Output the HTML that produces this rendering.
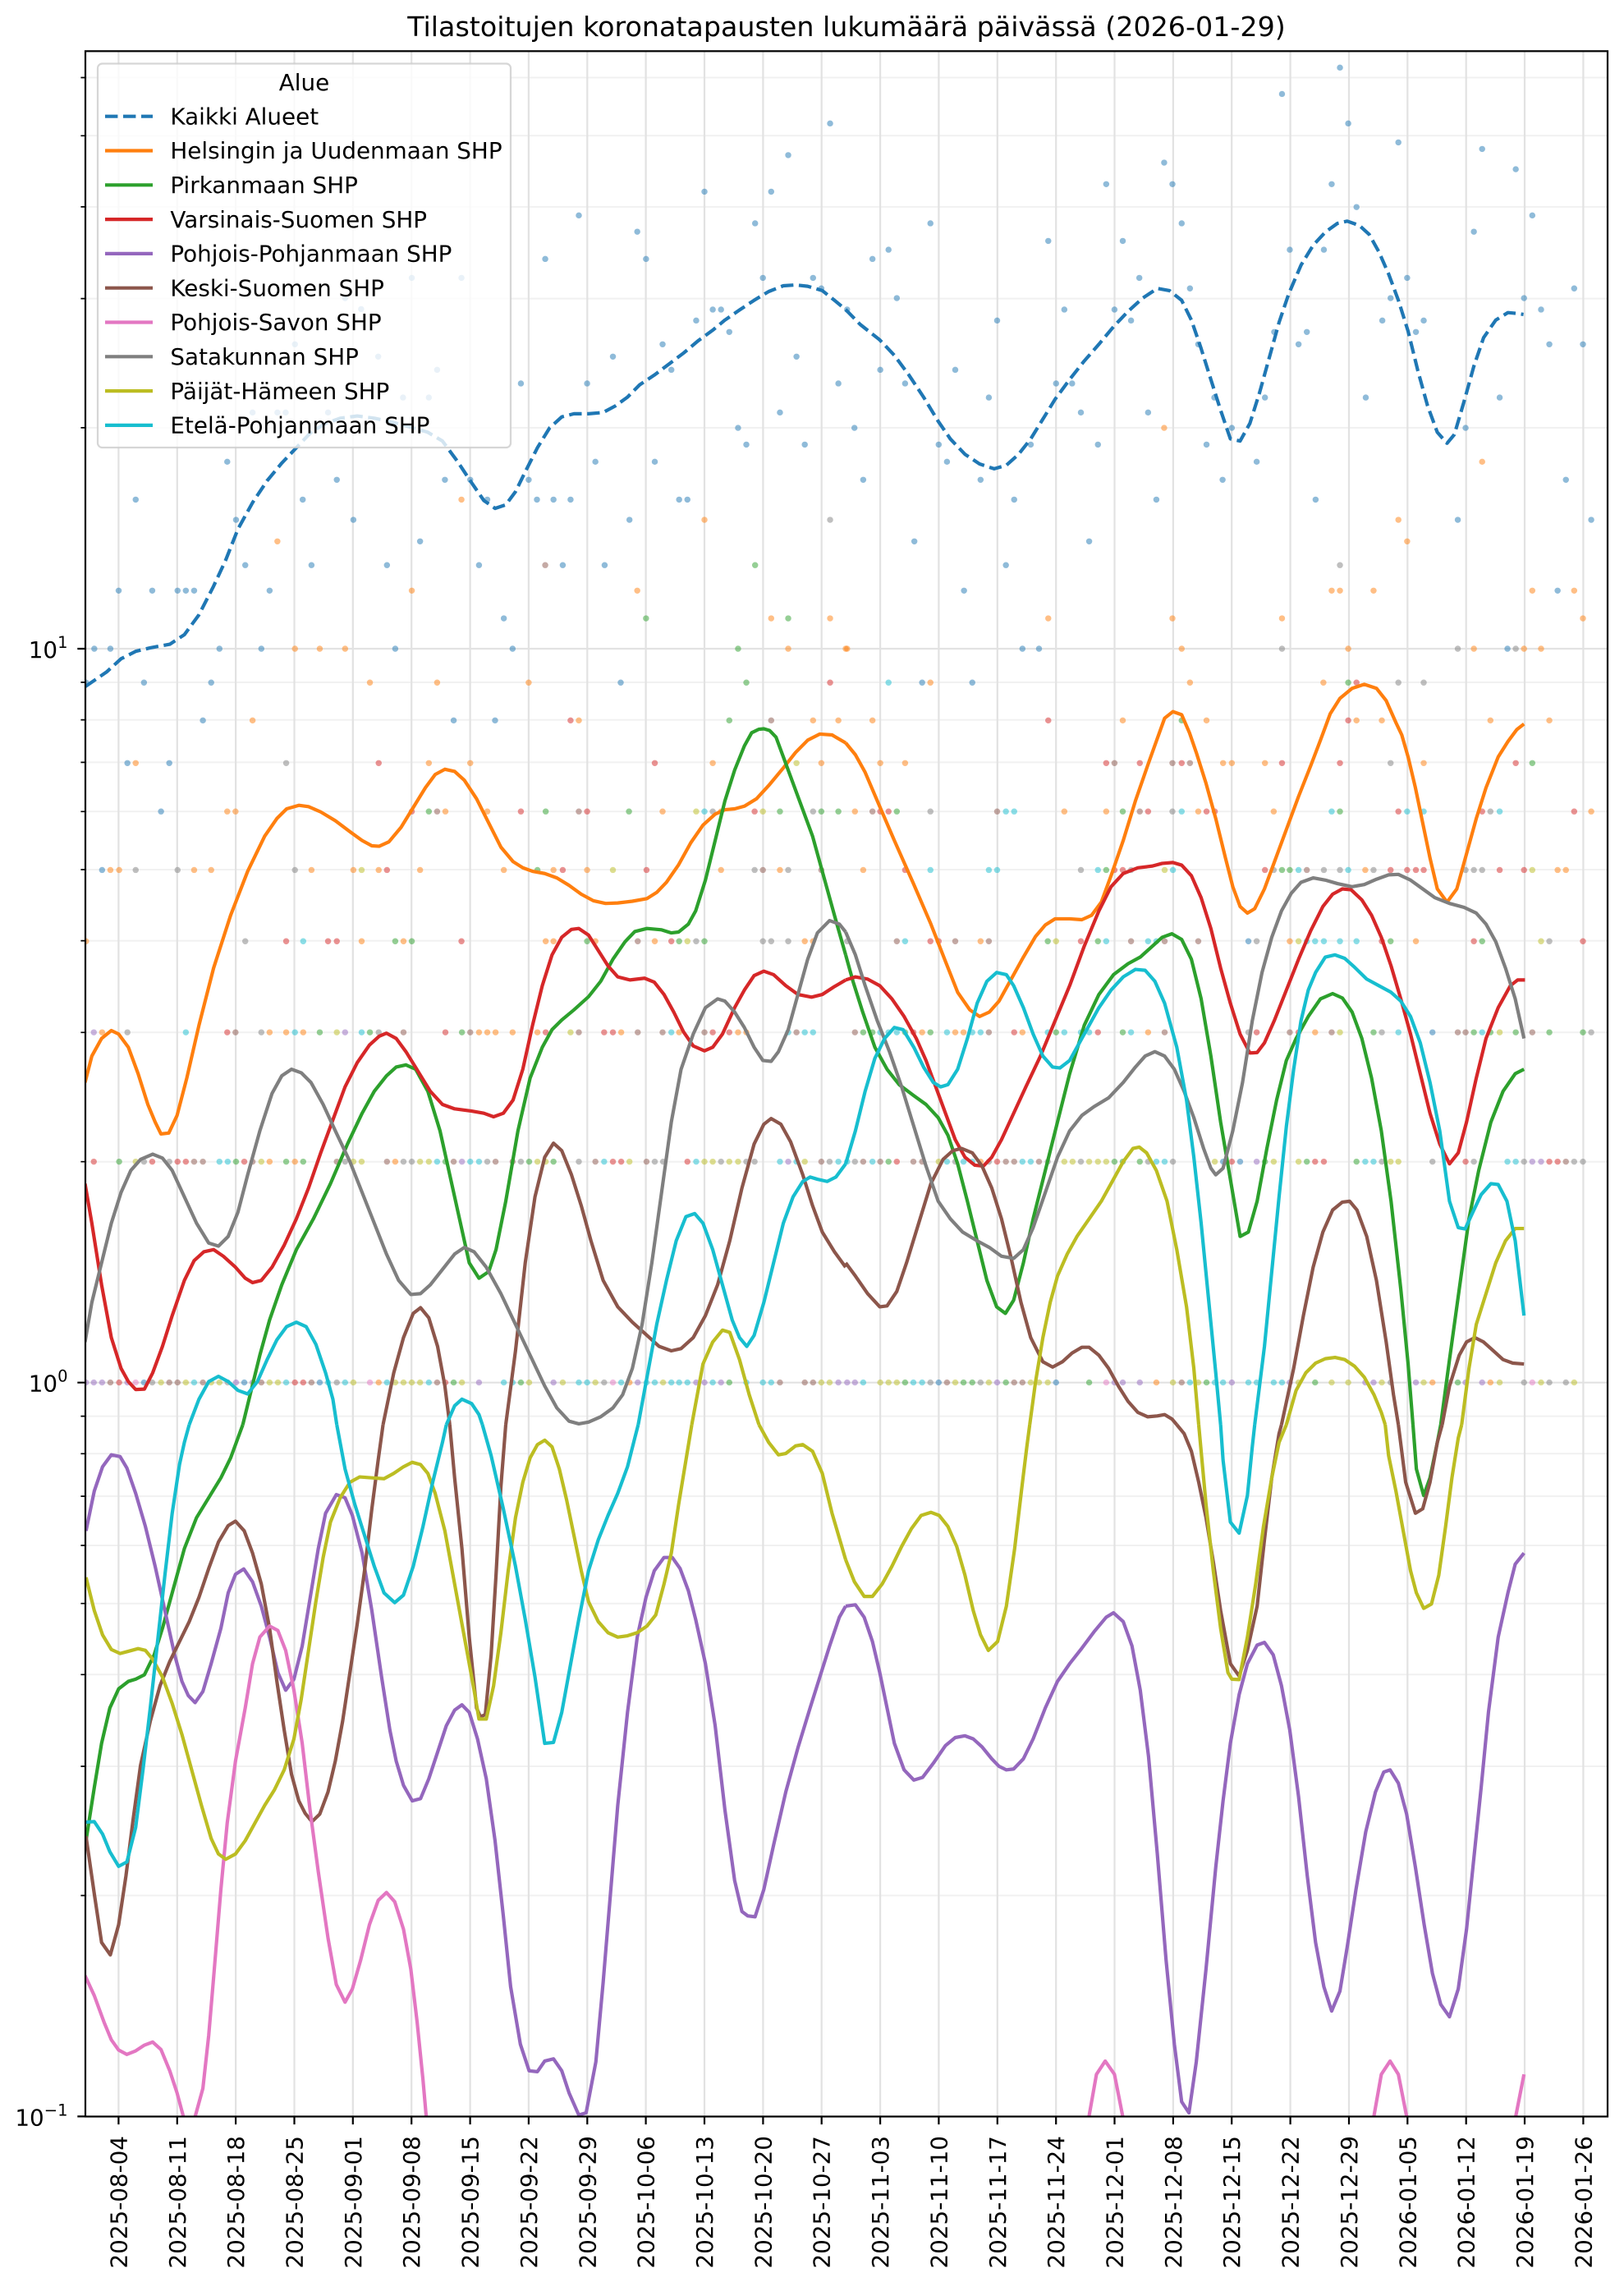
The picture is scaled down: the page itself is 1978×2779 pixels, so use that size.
<!DOCTYPE html>
<html><head><meta charset="utf-8"><style>
html,body{margin:0;padding:0;background:#fff}
svg{display:block}
text{font-family:"DejaVu Sans","Liberation Sans",sans-serif;fill:#000}
.ln{fill:none;stroke-width:4.2;vector-effect:non-scaling-stroke;stroke-linejoin:round}
.dt{fill:none;stroke-width:7.4;stroke-linecap:round;vector-effect:non-scaling-stroke;stroke-opacity:.5}
.gmaj{stroke:#e2e2e2;stroke-width:2.2}
.gmin{stroke:#f1f1f1;stroke-width:2}
</style></head><body>
<svg xmlns="http://www.w3.org/2000/svg" width="1978" height="2779" viewBox="0 0 1978 2779">
<rect width="1978" height="2779" fill="#fff"/>
<defs><clipPath id="ax"><rect x="104" y="62.3" width="1854" height="2515.2"/></clipPath></defs>

<!-- minor horizontal grid -->
<g class="gmin">
<path d="M104 2308.4H1958M104 2151H1958M104 2039.3H1958M104 1952.7H1958M104 1882H1958M104 1822.1H1958M104 1770.3H1958M104 1724.6H1958M104 1414.7H1958M104 1257.3H1958M104 1145.6H1958M104 1059H1958M104 988.3H1958M104 928.4H1958M104 876.6H1958M104 830.9H1958M104 520.9H1958M104 363.6H1958M104 251.9H1958M104 165.3H1958M104 94.5H1958"/>
</g>
<!-- major grid -->
<g class="gmaj">
<path d="M104 790H1958M104 1683.7H1958"/>
<path d="M144.4 62.3V2577.4M215.8 62.3V2577.4M287.1 62.3V2577.4M358.5 62.3V2577.4M429.8 62.3V2577.4M501.2 62.3V2577.4M572.6 62.3V2577.4M643.9 62.3V2577.4M715.3 62.3V2577.4M786.6 62.3V2577.4M858 62.3V2577.4M929.4 62.3V2577.4M1000.7 62.3V2577.4M1072.1 62.3V2577.4M1143.4 62.3V2577.4M1214.8 62.3V2577.4M1286.2 62.3V2577.4M1357.5 62.3V2577.4M1428.9 62.3V2577.4M1500.2 62.3V2577.4M1571.6 62.3V2577.4M1643 62.3V2577.4M1714.3 62.3V2577.4M1785.7 62.3V2577.4M1857 62.3V2577.4M1928.4 62.3V2577.4"/>
</g>

<g clip-path="url(#ax)">
<!-- ===== DOTS ===== -->
<g transform="translate(100,55) scale(0.59311,0.53571)">
<path class="dt" stroke="#1f77b4" d="M1536 178h.1M1450 250h.1M1278 333h.1M1415 333h.1M1020 387h.1M1382 405h.1M1140 424h.1M951 486h.1M1158 486h.1M1398 529h.1M1501 529h.1M1518 553h.1M677 529h.1M779 529h.1M540 575h.1M573 600h.1M1295 601h.1M1312 601h.1M1261 626h.1M1329 652h.1M437 680h.1M1192 680h.1M608 708h.1M1090 708h.1M1467 708h.1M729 738h.1M1210 738h.1M901 769h.1M1037 769h.1M1553 769h.1M659 801h.1M712 801h.1M350 835h.1M401 835h.1M418 835h.1M505 835h.1M1433 835h.1M1347 870h.1M1364 908h.1M1484 908h.1M298 947h.1M1054 947h.1M1176 947h.1M523 988h.1M745 988h.1M797 988h.1M917 988h.1M110 1033h.1M453 1033h.1M832 1033h.1M934 1033h.1M968 1033h.1M1003 1033h.1M1226 1033h.1M1243 1033h.1M316 1079h.1M557 1079h.1M1124 1079h.1M694 1128h.1M335 1182h.1M471 1182h.1M626 1182h.1M815 1182h.1M987 1182h.1M1073 1182h.1M75 1240h.1M144 1240h.1M196 1240h.1M213 1240h.1M230 1240h.1M385 1240h.1M866 1303h.1M25 1372h.1M58 1372h.1M282 1372h.1M368 1372h.1M643 1372h.1M884 1372h.1M8 1449h.1M127 1449h.1M265 1449h.1M1106 1449h.1M248 1535h.1M763 1535h.1M848 1535h.1"/>
<path class="dt" stroke="#ff7f0e" d="M779 1033h.1M401 1128h.1M677 1240h.1M1278 1079h.1M1140 1240h.1M1415 1303h.1M1536 1303h.1M437 1372h.1M488 1372h.1M540 1372h.1M1450 1372h.1M1568 1372h.1M591 1449h.1M729 1449h.1M917 1449h.1M350 1535h.1M1020 1535h.1M1501 1535h.1M1553 1535h.1"/>
<path class="dt" stroke="#7f7f7f" d="M1536 1079h.1"/>
<path class="dt" stroke="#8c564b" d="M951 1182h.1M1415 1535h.1"/>
<path class="dt" stroke="#2ca02c" d="M1382 1182h.1M1158 1303h.1M1450 1303h.1M1347 1372h.1M1364 1449h.1M1329 1535h.1"/>
<path class="dt" stroke="#d62728" d="M1003 1535h.1M1536 1449h.1"/>
</g>
<g transform="translate(1030,55) scale(0.59311,0.53571)">
<path class="dt" stroke="#1f77b4" d="M1015 51h.1M896 111h.1M1032 178h.1M1135 221h.1M1307 236h.1M654 267h.1M1376 282h.1M535 316h.1M671 316h.1M998 316h.1M1049 368h.1M174 405h.1M690 405h.1M1410 387h.1M416 445h.1M569 445h.1M1290 424h.1M88 465h.1M912 465h.1M982 465h.1M55 486h.1M603 529h.1M1153 529h.1M707 553h.1M1496 553h.1M105 575h.1M1119 575h.1M1393 575h.1M3 601h.1M449 601h.1M552 601h.1M1428 601h.1M311 626h.1M586 626h.1M1102 626h.1M1187 626h.1M880 652h.1M947 652h.1M1171 652h.1M724 680h.1M930 680h.1M1445 680h.1M1514 680h.1M71 738h.1M225 738h.1M122 769h.1M432 769h.1M465 769h.1M294 801h.1M757 801h.1M861 801h.1M1068 801h.1M1343 801h.1M483 835h.1M621 835h.1M18 870h.1M793 870h.1M1273 870h.1M191 908h.1M380 908h.1M518 908h.1M741 908h.1M208 947h.1M844 947h.1M36 988h.1M277 988h.1M774 988h.1M1479 988h.1M346 1033h.1M638 1033h.1M965 1033h.1M1257 1079h.1M1531 1079h.1M141 1128h.1M500 1128h.1M329 1182h.1M243 1240h.1M1462 1240h.1M363 1372h.1M397 1372h.1M1359 1372h.1M157 1449h.1M260 1449h.1"/>
<path class="dt" stroke="#ff7f0e" d="M654 870h.1M1307 947h.1M1135 1079h.1M1153 1128h.1M998 1240h.1M1015 1240h.1M1084 1240h.1M1410 1240h.1M1496 1240h.1M416 1303h.1M671 1303h.1M896 1303h.1M1514 1303h.1M3 1372h.1M690 1372h.1M1032 1372h.1M1290 1372h.1M1393 1372h.1M1428 1372h.1M174 1449h.1M707 1449h.1M981 1449h.1M55 1535h.1M569 1535h.1M741 1535h.1M1049 1535h.1M1101 1535h.1M1324 1535h.1M1445 1535h.1"/>
<path class="dt" stroke="#7f7f7f" d="M1015 1182h.1M896 1372h.1M1257 1372h.1M1376 1372h.1M1135 1449h.1M1187 1449h.1"/>
<path class="dt" stroke="#17becf" d="M88 1449h.1"/>
<path class="dt" stroke="#2ca02c" d="M1032 1449h.1M690 1535h.1"/>
<path class="dt" stroke="#d62728" d="M1049 1449h.1M416 1535h.1M1032 1535h.1"/>
</g>
<g transform="translate(100,895) scale(0.59311,0.53571)">
<path class="dt" stroke="#1f77b4" d="M93 64h.1M179 64h.1M162 174h.1M41 307h.1M127 1472h.1M333 1472h.1M488 1472h.1"/>
<path class="dt" stroke="#ff7f0e" d="M110 64h.1M712 64h.1M797 64h.1M1295 64h.1M1518 64h.1M298 174h.1M315 174h.1M746 174h.1M832 174h.1M1192 174h.1M1312 174h.1M58 307h.1M76 307h.1M230 307h.1M265 307h.1M471 307h.1M557 307h.1M609 307h.1M694 307h.1M866 307h.1M968 307h.1M1037 307h.1M1312 307h.1M1433 307h.1M8 469h.1M574 469h.1M660 469h.1M952 469h.1M968 469h.1M1054 469h.1M1176 469h.1M1484 469h.1M1501 469h.1M41 676h.1M385 676h.1M419 676h.1M454 676h.1M815 676h.1M832 676h.1M849 676h.1M884 676h.1M935 676h.1M1107 676h.1M1226 676h.1M1347 676h.1M1364 676h.1M385 970h.1M437 970h.1M643 970h.1M609 1472h.1M1124 1472h.1"/>
<path class="dt" stroke="#7f7f7f" d="M419 64h.1M1295 174h.1M1501 174h.1M110 307h.1M196 307h.1M437 307h.1M1381 307h.1M1450 307h.1M335 469h.1M1261 469h.1M1398 469h.1M1415 469h.1M1450 469h.1M93 676h.1M368 676h.1M609 676h.1M127 970h.1M179 970h.1M540 970h.1M660 970h.1M677 970h.1M832 970h.1M901 970h.1M1020 970h.1M1176 970h.1M1193 970h.1M1312 970h.1M1364 970h.1M1381 970h.1M1535 970h.1M144 1472h.1M299 1472h.1M523 1472h.1M1072 1472h.1"/>
<path class="dt" stroke="#d62728" d="M609 64h.1M1176 64h.1M677 174h.1M1037 174h.1M1381 174h.1M901 174h.1M626 307h.1M987 307h.1M1159 307h.1M419 469h.1M505 469h.1M523 469h.1M779 469h.1M1210 469h.1M298 676h.1M746 676h.1M952 676h.1M1072 676h.1M1090 676h.1M1295 676h.1M1329 676h.1M24 970h.1M144 970h.1M196 970h.1M213 970h.1M333 970h.1M1090 970h.1M1107 970h.1M1243 970h.1M76 1472h.1M437 1472h.1M454 1472h.1M746 1472h.1"/>
<path class="dt" stroke="#2ca02c" d="M712 174h.1M952 174h.1M1123 174h.1M1433 174h.1M1518 174h.1M1553 174h.1M935 307h.1M643 469h.1M677 469h.1M1037 469h.1M1226 469h.1M1278 469h.1M488 676h.1M591 676h.1M780 676h.1M76 970h.1M316 970h.1M419 970h.1M454 970h.1M746 970h.1M918 970h.1M968 970h.1M763 1472h.1M901 1472h.1M1329 1472h.1"/>
<path class="dt" stroke="#8c564b" d="M729 174h.1M1020 174h.1M1398 307h.1M1518 307h.1M1141 469h.1M315 676h.1M660 676h.1M797 676h.1M1020 676h.1M1141 676h.1M1192 676h.1M1278 676h.1M1467 676h.1M230 970h.1M248 970h.1M350 970h.1M523 970h.1M626 970h.1M763 970h.1M849 970h.1M884 970h.1M1054 970h.1M1159 970h.1M1518 970h.1M58 1472h.1M179 1472h.1M196 1472h.1M248 1472h.1M368 1472h.1M471 1472h.1M729 1472h.1M1433 1472h.1M1484 1472h.1M1501 1472h.1"/>
<path class="dt" stroke="#bcbd22" d="M1467 64h.1M1261 174h.1M1398 174h.1M574 307h.1M1090 307h.1M1243 469h.1M523 676h.1M1003 676h.1M110 970h.1M368 970h.1M557 970h.1M574 970h.1M694 970h.1M712 970h.1M935 970h.1M952 970h.1M1124 970h.1M1278 970h.1M1295 970h.1M1329 970h.1M1347 970h.1M1484 970h.1M162 1472h.1M213 1472h.1M265 1472h.1M282 1472h.1M385 1472h.1M402 1472h.1M557 1472h.1M643 1472h.1M660 1472h.1M677 1472h.1M694 1472h.1M780 1472h.1M918 1472h.1M987 1472h.1M1054 1472h.1M1193 1472h.1M1518 1472h.1M1535 1472h.1"/>
<path class="dt" stroke="#17becf" d="M1278 174h.1M454 469h.1M213 676h.1M437 676h.1M574 676h.1M1210 676h.1M1450 676h.1M1484 676h.1M1501 676h.1M282 970h.1M299 970h.1M729 970h.1M797 970h.1M815 970h.1M1261 970h.1M1467 970h.1M1553 970h.1M1072 970h.1M1433 970h.1M230 1472h.1M419 1472h.1M505 1472h.1M540 1472h.1M626 1472h.1M712 1472h.1M866 1472h.1M884 1472h.1M1020 1472h.1M1037 1472h.1M1107 1472h.1M1159 1472h.1M1176 1472h.1M1210 1472h.1M1226 1472h.1M1243 1472h.1M1295 1472h.1M1364 1472h.1M1398 1472h.1M1415 1472h.1"/>
<path class="dt" stroke="#9467bd" d="M24 676h.1M540 676h.1M780 970h.1M1450 970h.1M8 1472h.1M24 1472h.1M41 1472h.1M93 1472h.1M316 1472h.1M350 1472h.1M815 1472h.1M968 1472h.1M1141 1472h.1M1261 1472h.1M1278 1472h.1M1312 1472h.1M1553 1472h.1"/>
<path class="dt" stroke="#e377c2" d="M110 1472h.1M591 1472h.1M1090 1472h.1"/>
</g>
<g transform="translate(1030,895) scale(0.59311,0.53571)">
<path class="dt" stroke="#1f77b4" d="M827 469h.1M1205 676h.1M775 970h.1M810 970h.1M191 1472h.1M432 1472h.1"/>
<path class="dt" stroke="#ff7f0e" d="M71 64h.1M122 64h.1M775 64h.1M793 64h.1M861 64h.1M1187 64h.1M19 174h.1M449 174h.1M535 174h.1M724 174h.1M879 174h.1M1531 174h.1M36 307h.1M1067 307h.1M1462 307h.1M1479 307h.1M277 469h.1M912 469h.1M1171 469h.1M157 676h.1M225 676h.1M242 676h.1M363 676h.1M621 676h.1M964 676h.1M277 970h.1M638 1472h.1M1205 1472h.1M1324 1472h.1"/>
<path class="dt" stroke="#d62728" d="M535 64h.1M604 64h.1M690 64h.1M896 64h.1M1015 64h.1M1376 64h.1M71 174h.1M88 174h.1M621 174h.1M741 174h.1M758 174h.1M1135 174h.1M1307 174h.1M1496 174h.1M122 307h.1M552 307h.1M569 307h.1M861 307h.1M1119 307h.1M1153 307h.1M1171 307h.1M1187 307h.1M1343 307h.1M1393 307h.1M174 469h.1M191 469h.1M483 469h.1M1101 469h.1M1290 469h.1M1514 469h.1M139 676h.1M346 676h.1M518 676h.1M844 676h.1M930 676h.1M105 970h.1M311 970h.1M793 970h.1M964 970h.1M982 970h.1M1273 970h.1M1445 970h.1M1462 970h.1"/>
<path class="dt" stroke="#8c564b" d="M552 64h.1M671 64h.1M707 64h.1M55 174h.1M311 174h.1M604 174h.1M947 307h.1M105 469h.1M225 469h.1M294 469h.1M586 469h.1M655 469h.1M724 469h.1M19 676h.1M294 676h.1M655 676h.1M912 676h.1M998 676h.1M1257 676h.1M1273 676h.1M1410 676h.1M36 970h.1M71 970h.1M139 970h.1M157 970h.1M329 970h.1M346 970h.1M397 970h.1M1479 970h.1M208 1472h.1M346 1472h.1M363 1472h.1M690 1472h.1"/>
<path class="dt" stroke="#7f7f7f" d="M1119 64h.1M174 174h.1M671 174h.1M1324 174h.1M483 307h.1M586 307h.1M879 307h.1M982 307h.1M1015 307h.1M1084 307h.1M1273 307h.1M1290 307h.1M1307 307h.1M3 469h.1M844 469h.1M1445 469h.1M827 676h.1M1101 676h.1M1531 676h.1M19 970h.1M225 970h.1M294 970h.1M415 970h.1M483 970h.1M621 970h.1M672 970h.1M1101 970h.1M1205 970h.1M1290 970h.1M1393 970h.1M1496 970h.1M1514 970h.1M174 1472h.1M277 1472h.1M1119 1472h.1M1240 1472h.1M1393 1472h.1M1445 1472h.1M1479 1472h.1"/>
<path class="dt" stroke="#2ca02c" d="M1410 64h.1M105 174h.1M569 174h.1M1015 174h.1M535 307h.1M896 307h.1M912 307h.1M415 469h.1M518 469h.1M1119 469h.1M1307 469h.1M36 676h.1M55 676h.1M122 676h.1M174 676h.1M432 676h.1M569 676h.1M1084 676h.1M1290 676h.1M1324 676h.1M1376 676h.1M1445 676h.1M1514 676h.1M88 970h.1M552 970h.1M569 970h.1M604 970h.1M861 970h.1M947 970h.1M1049 970h.1M122 1472h.1M242 1472h.1M260 1472h.1M329 1472h.1M500 1472h.1M741 1472h.1M964 1472h.1M1257 1472h.1"/>
<path class="dt" stroke="#bcbd22" d="M655 307h.1M1410 307h.1M432 469h.1M930 469h.1M1428 469h.1M1015 676h.1M1343 676h.1M191 970h.1M449 970h.1M466 970h.1M500 970h.1M518 970h.1M535 970h.1M758 970h.1M879 970h.1M930 970h.1M1119 970h.1M1135 970h.1M71 1472h.1M88 1472h.1M105 1472h.1M225 1472h.1M294 1472h.1M380 1472h.1M397 1472h.1M415 1472h.1M672 1472h.1M724 1472h.1M930 1472h.1M998 1472h.1M1032 1472h.1M1101 1472h.1M1187 1472h.1M1343 1472h.1M1428 1472h.1M1496 1472h.1"/>
<path class="dt" stroke="#17becf" d="M329 174h.1M346 174h.1M690 174h.1M998 174h.1M1153 174h.1M1187 174h.1M1343 174h.1M174 307h.1M294 307h.1M311 307h.1M518 307h.1M672 307h.1M930 307h.1M1032 307h.1M122 469h.1M535 469h.1M621 469h.1M638 469h.1M947 469h.1M964 469h.1M982 469h.1M1015 469h.1M1049 469h.1M71 676h.1M88 676h.1M105 676h.1M208 676h.1M260 676h.1M277 676h.1M415 676h.1M449 676h.1M483 676h.1M500 676h.1M586 676h.1M1135 676h.1M1307 676h.1M3 970h.1M55 970h.1M208 970h.1M242 970h.1M260 970h.1M363 970h.1M380 970h.1M638 970h.1M655 970h.1M1067 970h.1M1084 970h.1M1359 970h.1M1376 970h.1M36 1472h.1M139 1472h.1M157 1472h.1M707 1472h.1M758 1472h.1M775 1472h.1M827 1472h.1M844 1472h.1M879 1472h.1M896 1472h.1"/>
<path class="dt" stroke="#9467bd" d="M844 970h.1M1410 970h.1M1428 970h.1M3 1472h.1M19 1472h.1M311 1472h.1M552 1472h.1M569 1472h.1M604 1472h.1M793 1472h.1M912 1472h.1M1067 1472h.1M1084 1472h.1M1171 1472h.1M1273 1472h.1M1307 1472h.1"/>
<path class="dt" stroke="#e377c2" d="M535 1472h.1M1410 1472h.1"/>
</g>

<!-- ===== LINES ===== -->
<path fill="none" stroke="#1f77b4" stroke-width="4.2" stroke-dasharray="15.4 6.6" stroke-linejoin="round" d="M104,836 L129.7,818.4 147.4,802.3 165.2,793.2 183,788.9 206.8,784.6 224.6,772.9 242.3,748.7 260.1,713.9 275,681.8 289.8,644.3 307.6,612.1 325.4,585.4 343.2,563.9 361,545.2 378.8,526.4 396.6,515.7 414.3,509.3 435.1,506.6 455.9,509.3 479.6,514.6 503.3,521.1 521.1,526.4 538.9,537.1 556.7,561.2 574.5,588 589.3,609.5 603,619.1 616,614.8 627.9,598.7 639.7,574.6 654.6,545.2 669.4,521.1 684.2,507.7 699,503.9 716.8,503.9 734.6,502.3 749.5,494.3 764.3,483.6 779.1,468.6 796.9,456.8 814.7,443.4 832.5,430 850.3,415 868.1,402.1 882.9,389.8 900.7,377.5 918.5,365.7 936.3,355 954.1,348 968.9,347 983.7,348.6 1001.5,353.9 1016.4,365.7 1030,377 1047.8,395.2 1071.5,413.9 1089.3,432.7 1107.1,456.8 1124.9,483.6 1142.7,513 1157.5,534.5 1175.3,553.2 1193.1,565 1210.9,570.9 1225.7,566.6 1240.6,553.2 1255.4,534.5 1270.2,510.4 1285,486.3 1302.8,462.1 1320.6,439.6 1338.4,419.3 1356.2,397.9 1374,379.1 1391.8,363 1409.6,351.2 1424.4,353.9 1439.2,365.7 1451.1,389.8 1463,424.6 1474.8,462.1 1486.7,499.6 1498.6,534.5 1510.4,537.1 1522.3,515.7 1534.1,478.2 1546,435.4 1557.9,392.5 1569.7,357.7 1584.6,322.9 1599.4,298.7 1614.2,282.7 1629,272 1640.9,269.3 1655.7,274.6 1667.6,285.4 1679.5,306.8 1691.3,333.6 1703.2,365.7 1715,403.2 1726.9,451.4 1738.8,494.3 1750.6,526.4 1762.5,539.8 1771.4,529.1 1783.2,488.9 1795.1,446.1 1807,411.2 1821.8,389.8 1836.6,380.7 1848.5,381.8 1855.6,382.9"/>

<g transform="translate(100,895) scale(0.59311,0.53571)">
<path class="ln" stroke="#ff7f0e" d="M6,790 L20,730 40,690 60,672 75,680 95,710 115,770 135,840 150,880 162,907 178,905 195,865 215,780 240,660 270,530 305,410 340,310 375,230 400,190 420,168 445,160 465,163 490,175 520,195 550,220 575,240 595,252 610,253 630,243 655,210 680,165 705,120 725,90 745,78 765,83 785,103 810,145 835,200 860,255 885,288 905,302 925,310 950,315 975,325 1000,342 1025,362 1050,377 1075,383 1100,382 1130,378 1160,372 1180,358 1200,335 1225,295 1250,245 1275,205 1300,180 1320,170 1340,168 1360,162 1385,145 1410,115 1440,75 1465,40 1490,12 1515,-2 1540,0 1568,18"/>
<path class="ln" stroke="#2ca02c" d="M330,1568 L345,1500 365,1410 385,1330 410,1250 440,1170 475,1100 510,1020 545,930 575,860 600,810 625,775 645,755 665,750 685,760 710,810 735,900 755,1000 775,1100 795,1200 815,1235 835,1220 850,1170 870,1060 895,900 920,780 945,710 965,670 985,648 1010,625 1040,595 1065,560 1090,510 1115,470 1135,447 1160,440 1190,443 1210,450 1225,448 1245,430 1260,400 1280,330 1300,240 1320,150 1340,80 1360,25 1375,-5 1390,-13 1400,-14 1412,-10 1425,5 1440,50 1470,140 1500,230 1525,330 1550,430 1568,500"/>
<path class="ln" stroke="#d62728" d="M6,1020 L20,1110 40,1250 60,1370 80,1440 95,1470 110,1488 128,1487 145,1450 165,1390 185,1320 210,1240 230,1195 250,1175 270,1170 290,1185 315,1210 335,1235 350,1245 368,1240 390,1210 415,1160 440,1100 465,1030 490,950 515,875 540,800 565,745 590,705 610,685 625,678 645,690 665,720 690,765 715,810 740,840 765,850 800,855 825,860 845,868 865,860 885,830 905,760 925,660 945,570 965,500 985,460 1005,442 1020,440 1040,455 1060,490 1080,525 1100,550 1125,557 1155,553 1175,562 1195,590 1215,630 1235,675 1255,707 1278,718 1295,710 1315,680 1340,620 1360,580 1380,547 1400,537 1420,545 1445,570 1470,590 1498,596 1520,590 1545,572 1568,557"/>
<path class="ln" stroke="#8c564b" d="M618,1568 L640,1450 660,1370 680,1315 695,1302 712,1325 730,1390 745,1480 755,1568 M870,1568 L890,1400 910,1200 930,1050 950,960 968,928 985,945 1005,1000 1025,1070 1045,1150 1070,1240 1100,1300 1130,1335 1160,1365 1185,1390 1210,1400 1230,1395 1255,1370 1280,1320 1305,1250 1330,1150 1355,1030 1380,930 1400,885 1415,872 1435,885 1455,925 1480,1000 1500,1070 1520,1130 1545,1175 1568,1210"/>
<path class="ln" stroke="#7f7f7f" d="M6,1380 L20,1290 40,1200 60,1110 80,1040 100,990 120,965 145,953 165,962 185,990 210,1050 235,1110 260,1155 280,1162 300,1140 320,1085 340,1000 365,900 390,815 410,775 430,760 450,768 470,790 495,840 520,900 550,970 575,1040 600,1110 625,1180 650,1240 675,1272 695,1270 715,1250 740,1215 765,1180 785,1165 805,1175 830,1210 860,1270 890,1340 920,1410 950,1480 975,1530 1000,1560 1020,1566 1040,1562 1065,1550 1090,1530 1110,1500 1130,1440 1150,1340 1170,1200 1190,1040 1210,880 1230,760 1255,680 1280,620 1305,600 1320,605 1340,630 1360,665 1380,710 1398,740 1415,742 1430,720 1450,670 1470,590 1490,510 1510,450 1535,422 1555,430 1568,448"/>
<path class="ln" stroke="#bcbd22" d="M1252,1568 L1275,1430 1295,1380 1315,1353 1330,1358 1350,1420 1370,1500 1390,1568"/>
<path class="ln" stroke="#17becf" d="M220,1568 L240,1510 260,1470 280,1458 300,1470 320,1490 340,1498 360,1470 380,1420 400,1375 420,1345 440,1335 460,1345 480,1385 500,1450 515,1510 523,1568 M748,1568 L765,1525 780,1510 800,1520 815,1545 822,1568 M1142,1568 L1160,1460 1180,1340 1200,1240 1220,1150 1240,1095 1258,1088 1275,1110 1295,1170 1315,1250 1335,1330 1350,1370 1365,1390 1380,1365 1400,1290 1420,1200 1440,1110 1460,1050 1480,1015 1495,1005 1510,1010 1530,1015 1548,1005 1568,975"/>
</g>

<g transform="translate(100,1735) scale(0.59311,0.5389)">
<path class="ln" stroke="#2ca02c" d="M8,940 L25,820 40,720 57,640 75,597 95,580 110,575 128,565 148,520 165,460 185,380 210,280 235,210 260,165 285,120 305,75 320,30 330,0"/>
<path class="ln" stroke="#9467bd" d="M8,240 L25,150 42,95 60,68 78,72 92,98 110,155 130,230 150,320 170,420 190,520 205,580 218,612 232,628 248,603 265,540 285,460 300,380 315,338 332,326 350,355 368,410 385,480 402,560 418,600 435,575 452,500 470,380 485,280 500,200 522,158 540,165 555,205 575,290 595,420 615,570 632,690 645,760 660,815 678,850 695,845 712,800 730,740 748,680 765,645 780,633 795,650 812,710 830,800 848,940 865,1110 880,1270 900,1400 918,1460 935,1462 950,1438 968,1433 985,1460 1000,1510 1020,1560 1035,1555 1055,1440 1070,1260 1085,1060 1100,860 1120,650 1140,480 1158,390 1175,330 1195,300 1212,300 1228,325 1245,375 1260,440 1280,540 1300,680 1320,870 1340,1030 1355,1100 1367,1110 1382,1112 1400,1050 1420,950 1445,830 1470,730 1495,640 1515,570 1535,500 1555,435 1568,410"/>
<path class="ln" stroke="#8c564b" d="M8,930 L25,1060 40,1170 58,1198 75,1130 90,1020 105,890 120,770 140,670 160,590 180,535 200,490 220,445 240,390 260,325 280,265 300,228 315,218 333,240 350,290 368,360 385,460 400,580 415,690 430,790 445,850 458,878 472,897 488,880 505,830 520,760 535,670 550,560 565,450 580,330 595,190 608,80 618,0 M755,0 L765,120 780,280 795,480 810,640 818,660 828,655 840,520 850,340 860,140 870,0"/>
<path class="ln" stroke="#e377c2" d="M6,1245 L25,1290 45,1350 60,1390 75,1413 92,1423 110,1415 128,1402 145,1395 162,1412 180,1460 195,1510 212,1580 M228,1580 L248,1500 260,1380 270,1250 285,1050 298,900 315,760 335,640 350,540 365,480 385,455 402,465 418,510 435,600 452,720 468,870 485,1010 505,1160 522,1265 540,1305 555,1275 572,1210 590,1130 608,1075 625,1057 642,1078 660,1140 675,1230 688,1350 700,1480 708,1580"/>
<path class="ln" stroke="#bcbd22" d="M8,345 L25,420 42,475 60,508 78,517 95,512 115,506 130,510 145,530 165,570 185,630 205,700 225,780 245,860 265,935 280,970 295,982 315,970 335,940 355,900 375,860 395,825 415,780 435,710 450,620 465,510 480,400 495,300 510,220 530,165 550,130 570,118 595,120 620,122 640,110 660,95 678,85 695,90 710,110 725,155 745,240 765,360 785,480 805,600 815,665 830,665 845,590 860,470 875,330 890,210 905,130 920,75 935,45 950,35 965,50 980,100 995,170 1010,250 1025,330 1040,400 1060,445 1080,470 1100,480 1120,477 1140,470 1160,455 1178,430 1195,360 1210,290 1225,180 1240,80 1252,0 M1390,0 L1410,40 1430,68 1445,65 1465,48 1480,45 1500,60 1520,110 1540,200 1560,275 1568,305"/>
<path class="ln" stroke="#17becf" d="M8,898 L25,897 42,925 57,965 75,998 92,988 110,910 125,780 140,640 155,490 170,340 185,200 200,90 210,40 220,0 M523,0 L540,100 560,180 580,250 600,320 620,380 642,402 660,385 680,320 700,230 720,130 740,40 748,0 M822,0 L840,70 865,190 890,320 910,440 930,570 950,720 968,718 985,650 1000,560 1020,440 1040,330 1060,260 1080,205 1100,155 1120,95 1135,30 1142,0"/>
</g>

<g transform="translate(1030,895) scale(0.59311,0.53571)">
<path class="ln" stroke="#ff7f0e" d="M0,18 L20,45 40,85 65,150 100,240 140,340 175,430 205,515 230,585 255,625 275,640 295,630 315,605 340,555 365,505 390,458 410,432 430,418 460,418 485,420 505,410 525,380 545,320 570,240 595,150 620,70 640,8 655,-38 672,-53 690,-46 706,-5 720,40 740,110 760,190 780,280 795,345 810,390 825,405 840,395 860,350 880,290 905,215 930,140 955,70 975,12 995,-48 1015,-83 1040,-106 1065,-115 1090,-106 1110,-78 1130,-28 1142,0 1155,50 1170,120 1185,200 1200,280 1215,350 1235,380 1255,350 1275,270 1295,190 1315,120 1340,50 1360,15 1378,-12 1393,-25"/>
<path class="ln" stroke="#2ca02c" d="M0,500 L15,560 35,630 60,710 85,760 110,795 140,820 165,840 190,870 210,910 230,975 250,1060 270,1150 290,1240 310,1300 328,1315 345,1285 365,1200 385,1100 410,990 435,880 460,770 490,660 520,590 550,545 580,520 605,505 630,480 650,460 670,452 690,465 710,510 730,600 750,730 770,880 790,1010 810,1140 827,1130 845,1060 865,940 885,830 905,740 925,690 950,640 975,600 1000,588 1020,598 1040,630 1060,690 1080,780 1100,900 1120,1060 1140,1260 1155,1430 1165,1568 M1222,1568 L1240,1420 1260,1260 1280,1100 1300,990 1325,880 1350,810 1375,770 1393,760"/>
<path class="ln" stroke="#d62728" d="M0,557 L20,550 45,555 70,570 95,600 120,640 145,690 165,740 185,800 205,860 225,920 245,960 265,978 283,980 300,960 320,920 345,860 370,800 400,730 430,650 460,570 490,480 520,400 545,345 570,315 600,302 630,298 650,292 672,290 690,296 710,320 730,370 750,440 770,530 790,610 810,680 830,723 845,722 860,700 880,650 905,580 930,510 955,445 980,390 1000,362 1020,350 1038,352 1060,375 1080,410 1100,460 1120,525 1140,600 1160,680 1180,770 1200,860 1220,930 1240,975 1258,950 1275,880 1295,780 1315,690 1340,620 1365,570 1380,557 1395,557"/>
<path class="ln" stroke="#8c564b" d="M0,1200 L20,1230 45,1270 70,1300 85,1298 105,1265 125,1200 150,1110 175,1020 200,965 220,945 238,940 260,950 280,980 300,1030 320,1100 340,1190 360,1290 380,1370 405,1425 425,1437 445,1425 465,1405 485,1392 500,1392 520,1410 540,1440 560,1480 580,1515 600,1540 620,1550 640,1548 655,1545 670,1555 680,1568 M895,1568 L920,1440 940,1320 960,1210 980,1130 1000,1080 1020,1062 1035,1060 1050,1080 1070,1140 1090,1240 1110,1380 1125,1500 1135,1568 M1225,1568 L1240,1480 1260,1410 1275,1380 1292,1370 1310,1380 1330,1400 1350,1420 1370,1428 1393,1430"/>
<path class="ln" stroke="#7f7f7f" d="M0,448 L20,500 40,570 65,650 90,720 115,800 140,890 165,980 190,1060 215,1100 240,1130 270,1150 295,1165 320,1185 345,1190 365,1170 385,1120 410,1040 435,960 460,900 485,865 510,845 540,825 570,790 595,755 615,730 635,720 655,730 675,760 695,810 715,870 735,940 750,985 760,1000 775,985 795,900 815,790 835,650 855,540 875,460 895,400 915,360 935,335 960,325 985,330 1010,338 1040,345 1065,340 1090,328 1115,318 1135,317 1160,330 1185,350 1210,370 1240,383 1270,392 1295,405 1315,430 1335,470 1355,530 1375,600 1393,690"/>
<path class="ln" stroke="#bcbd22" d="M378,1568 L390,1470 405,1370 420,1290 435,1230 455,1180 475,1140 500,1100 525,1060 550,1010 570,970 590,940 603,937 618,950 638,990 660,1060 680,1170 700,1300 715,1440 725,1568 M905,1568 L925,1490 945,1450 965,1428 985,1418 1005,1415 1025,1420 1045,1435 1065,1460 1085,1500 1100,1540 1108,1568 M1265,1568 L1280,1440 1295,1340 1315,1270 1335,1200 1355,1150 1375,1122 1393,1122"/>
<path class="ln" stroke="#17becf" d="M0,975 L20,900 40,810 60,735 80,690 100,665 118,670 140,710 160,755 180,790 195,800 210,795 230,760 250,690 270,610 290,560 310,540 330,545 345,570 365,620 385,680 405,730 425,755 440,757 460,740 480,700 500,660 520,620 545,580 570,550 595,533 615,535 635,560 655,610 680,710 700,830 715,960 730,1110 745,1280 760,1450 770,1568 M840,1568 L860,1390 875,1220 890,1050 905,890 920,760 935,650 950,580 965,540 985,505 1005,500 1025,508 1045,528 1070,555 1095,570 1120,585 1140,605 1160,640 1180,700 1200,790 1220,900 1240,1060 1258,1120 1272,1123 1290,1080 1305,1045 1325,1020 1340,1022 1358,1060 1375,1150 1393,1320"/>
</g>

<g transform="translate(1030,1735) scale(0.59311,0.5389)">
<path class="ln" stroke="#2ca02c" d="M1165,0 L1172,100 1187,160 1200,120 1215,40 1222,0"/>
<path class="ln" stroke="#9467bd" d="M0,410 L20,407 38,435 55,490 70,560 85,640 100,720 120,780 140,803 158,797 180,765 205,725 225,707 245,703 262,710 280,728 300,755 315,772 330,780 345,778 365,755 385,710 410,640 435,580 460,540 485,505 510,468 535,435 550,425 570,445 588,500 605,600 622,750 640,970 658,1210 675,1400 690,1530 705,1555 720,1440 740,1230 760,1000 775,850 790,720 808,610 825,540 845,498 860,492 878,520 895,590 912,690 930,840 948,1020 965,1170 982,1270 998,1325 1015,1280 1030,1180 1048,1050 1068,920 1088,830 1105,785 1118,780 1135,810 1152,880 1170,1000 1188,1130 1205,1240 1222,1310 1240,1338 1258,1275 1275,1140 1290,980 1305,820 1320,650 1340,480 1360,380 1375,315 1393,290"/>
<path class="ln" stroke="#8c564b" d="M680,0 L695,20 710,60 725,130 740,210 755,310 770,420 790,540 808,568 825,510 845,410 860,260 875,120 890,20 895,0 M1135,0 L1150,130 1170,200 1185,190 1200,130 1215,40 1225,0"/>
<path class="ln" stroke="#e377c2" d="M497,1580 L515,1468 533,1438 552,1468 572,1580 M1082,1580 L1100,1468 1118,1438 1135,1468 1155,1580 M1373,1580 L1393,1468"/>
<path class="ln" stroke="#bcbd22" d="M0,305 L18,355 38,388 55,388 75,360 95,320 115,275 135,235 155,205 175,198 192,205 210,230 228,275 245,340 262,420 277,475 293,510 312,490 330,410 347,280 362,140 372,50 378,0 M725,0 L740,180 755,330 770,460 785,560 793,575 808,576 825,480 842,360 858,230 875,120 890,40 905,0 M1108,0 L1115,70 1130,150 1145,240 1160,330 1172,380 1187,415 1203,405 1218,340 1232,230 1245,120 1258,30 1265,0"/>
<path class="ln" stroke="#17becf" d="M770,0 L775,80 790,220 808,245 825,160 835,50 840,0"/>
</g>
</g>

<rect x="104" y="62.3" width="1854" height="2515.2" fill="none" stroke="#000" stroke-width="2.2"/>

<path stroke="#000" stroke-width="2.2" d="M94.3 790H104M94.3 1683.7H104M94.3 2577.4H104"/>
<path stroke="#000" stroke-width="1.7" d="M98.4 2308.4H104M98.4 2151H104M98.4 2039.3H104M98.4 1952.7H104M98.4 1882H104M98.4 1822.1H104M98.4 1770.3H104M98.4 1724.6H104M98.4 1414.7H104M98.4 1257.3H104M98.4 1145.6H104M98.4 1059H104M98.4 988.3H104M98.4 928.4H104M98.4 876.6H104M98.4 830.9H104M98.4 520.9H104M98.4 363.6H104M98.4 251.9H104M98.4 165.3H104M98.4 94.5H104"/>
<text x="82.5" y="801" text-anchor="end" font-size="27.8">10<tspan dy="-12" font-size="19.5">1</tspan></text>
<text x="82.5" y="1694.7" text-anchor="end" font-size="27.8">10<tspan dy="-12" font-size="19.5">0</tspan></text>
<text x="82.5" y="2588.4" text-anchor="end" font-size="27.8">10<tspan dy="-12" font-size="19.5">−1</tspan></text>

<path stroke="#000" stroke-width="2.2" d="M144.4 2577.4v9.7M215.8 2577.4v9.7M287.1 2577.4v9.7M358.5 2577.4v9.7M429.8 2577.4v9.7M501.2 2577.4v9.7M572.6 2577.4v9.7M643.9 2577.4v9.7M715.3 2577.4v9.7M786.6 2577.4v9.7M858 2577.4v9.7M929.4 2577.4v9.7M1000.7 2577.4v9.7M1072.1 2577.4v9.7M1143.4 2577.4v9.7M1214.8 2577.4v9.7M1286.2 2577.4v9.7M1357.5 2577.4v9.7M1428.9 2577.4v9.7M1500.2 2577.4v9.7M1571.6 2577.4v9.7M1643 2577.4v9.7M1714.3 2577.4v9.7M1785.7 2577.4v9.7M1857 2577.4v9.7M1928.4 2577.4v9.7"/>
<g font-size="27.8" text-anchor="end">
<text transform="translate(144.4,2601) rotate(-90)" dy="10">2025-08-04</text>
<text transform="translate(215.8,2601) rotate(-90)" dy="10">2025-08-11</text>
<text transform="translate(287.1,2601) rotate(-90)" dy="10">2025-08-18</text>
<text transform="translate(358.5,2601) rotate(-90)" dy="10">2025-08-25</text>
<text transform="translate(429.8,2601) rotate(-90)" dy="10">2025-09-01</text>
<text transform="translate(501.2,2601) rotate(-90)" dy="10">2025-09-08</text>
<text transform="translate(572.6,2601) rotate(-90)" dy="10">2025-09-15</text>
<text transform="translate(643.9,2601) rotate(-90)" dy="10">2025-09-22</text>
<text transform="translate(715.3,2601) rotate(-90)" dy="10">2025-09-29</text>
<text transform="translate(786.6,2601) rotate(-90)" dy="10">2025-10-06</text>
<text transform="translate(858,2601) rotate(-90)" dy="10">2025-10-13</text>
<text transform="translate(929.4,2601) rotate(-90)" dy="10">2025-10-20</text>
<text transform="translate(1000.7,2601) rotate(-90)" dy="10">2025-10-27</text>
<text transform="translate(1072.1,2601) rotate(-90)" dy="10">2025-11-03</text>
<text transform="translate(1143.4,2601) rotate(-90)" dy="10">2025-11-10</text>
<text transform="translate(1214.8,2601) rotate(-90)" dy="10">2025-11-17</text>
<text transform="translate(1286.2,2601) rotate(-90)" dy="10">2025-11-24</text>
<text transform="translate(1357.5,2601) rotate(-90)" dy="10">2025-12-01</text>
<text transform="translate(1428.9,2601) rotate(-90)" dy="10">2025-12-08</text>
<text transform="translate(1500.2,2601) rotate(-90)" dy="10">2025-12-15</text>
<text transform="translate(1571.6,2601) rotate(-90)" dy="10">2025-12-22</text>
<text transform="translate(1643,2601) rotate(-90)" dy="10">2025-12-29</text>
<text transform="translate(1714.3,2601) rotate(-90)" dy="10">2026-01-05</text>
<text transform="translate(1785.7,2601) rotate(-90)" dy="10">2026-01-12</text>
<text transform="translate(1857,2601) rotate(-90)" dy="10">2026-01-19</text>
<text transform="translate(1928.4,2601) rotate(-90)" dy="10">2026-01-26</text>
</g>

<text x="1031" y="44" text-anchor="middle" font-size="33.3">Tilastoitujen koronatapausten lukumäärä päivässä (2026-01-29)</text>

<rect x="119" y="77.5" width="503" height="467.5" rx="5.5" fill="#fff" fill-opacity="0.8" stroke="#cccccc" stroke-opacity="0.8" stroke-width="2.2"/>
<text x="370.5" y="110" text-anchor="middle" font-size="27.8">Alue</text>
<g stroke-width="4.2" fill="none">
<path stroke="#1f77b4" stroke-dasharray="15.4 6.6" d="M128 141.7H186"/>
<path stroke="#ff7f0e" d="M128 183.5H186"/>
<path stroke="#2ca02c" d="M128 225.3H186"/>
<path stroke="#d62728" d="M128 267.1H186"/>
<path stroke="#9467bd" d="M128 308.9H186"/>
<path stroke="#8c564b" d="M128 350.7H186"/>
<path stroke="#e377c2" d="M128 392.5H186"/>
<path stroke="#7f7f7f" d="M128 434.3H186"/>
<path stroke="#bcbd22" d="M128 476.1H186"/>
<path stroke="#17becf" d="M128 517.9H186"/>
</g>
<g font-size="27.8">
<text x="207.4" y="151.4">Kaikki Alueet</text>
<text x="207.4" y="193.2">Helsingin ja Uudenmaan SHP</text>
<text x="207.4" y="235">Pirkanmaan SHP</text>
<text x="207.4" y="276.8">Varsinais-Suomen SHP</text>
<text x="207.4" y="318.6">Pohjois-Pohjanmaan SHP</text>
<text x="207.4" y="360.4">Keski-Suomen SHP</text>
<text x="207.4" y="402.2">Pohjois-Savon SHP</text>
<text x="207.4" y="444">Satakunnan SHP</text>
<text x="207.4" y="485.8">Päijät-Hämeen SHP</text>
<text x="207.4" y="527.6">Etelä-Pohjanmaan SHP</text>
</g>
</svg>
</body></html>
